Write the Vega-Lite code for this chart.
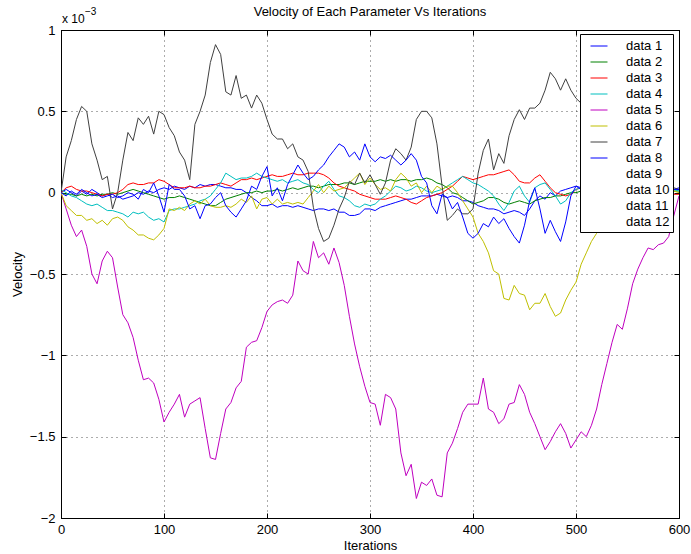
{
"$schema": "https://vega.github.io/schema/vega-lite/v6.json",
"width": 618, "height": 488,
"autosize": {"type": "none"},
"padding": {"left": 61, "top": 30, "right": 12, "bottom": 36},
"background": "white",
"config": {
  "font": "Liberation Sans",
  "view": {"stroke": "black", "strokeWidth": 1},
  "axis": {"labelFont": "Liberation Sans", "titleFont": "Liberation Sans", "labelFontSize": 13, "titleFontSize": 13, "labelColor": "black", "titleColor": "black", "titleFontWeight": "normal", "domainColor": "black", "tickColor": "black", "gridColor": "#000000", "gridOpacity": 0.65, "gridDash": [1, 4]}
},
"title": {"text": "Velocity of Each Parameter Vs Iterations", "font": "Liberation Sans", "fontSize": 13, "fontWeight": "normal", "color": "black", "anchor": "middle", "offset": -12},
"data": {"values": [
{"s":"data 1","x":0,"y":0},{"s":"data 1","x":5,"y":0.02},{"s":"data 1","x":10,"y":0},{"s":"data 1","x":15,"y":-0.02},{"s":"data 1","x":20,"y":0.01},{"s":"data 1","x":25,"y":-0.01},{"s":"data 1","x":30,"y":0.02},{"s":"data 1","x":35,"y":0},{"s":"data 1","x":40,"y":-0.02},{"s":"data 1","x":45,"y":-0.01},{"s":"data 1","x":50,"y":-0.03},{"s":"data 1","x":55,"y":-0.02},{"s":"data 1","x":60,"y":-0.04},{"s":"data 1","x":65,"y":-0.03},{"s":"data 1","x":70,"y":-0.02},{"s":"data 1","x":75,"y":0},{"s":"data 1","x":80,"y":-0.01},{"s":"data 1","x":85,"y":0.01},{"s":"data 1","x":90,"y":0},{"s":"data 1","x":95,"y":0.02},{"s":"data 1","x":100,"y":0.03},{"s":"data 1","x":105,"y":0.02},{"s":"data 1","x":110,"y":0.04},{"s":"data 1","x":115,"y":0.03},{"s":"data 1","x":120,"y":0.02},{"s":"data 1","x":125,"y":0.04},{"s":"data 1","x":130,"y":0.03},{"s":"data 1","x":135,"y":0.05},{"s":"data 1","x":140,"y":0.04},{"s":"data 1","x":145,"y":0.05},{"s":"data 1","x":150,"y":0.05},{"s":"data 1","x":155,"y":0.04},{"s":"data 1","x":160,"y":0.03},{"s":"data 1","x":165,"y":0.03},{"s":"data 1","x":170,"y":0.02},{"s":"data 1","x":175,"y":0.02},{"s":"data 1","x":180,"y":0},{"s":"data 1","x":185,"y":-0.03},{"s":"data 1","x":190,"y":-0.05},{"s":"data 1","x":195,"y":-0.08},{"s":"data 1","x":200,"y":-0.08},{"s":"data 1","x":205,"y":-0.07},{"s":"data 1","x":210,"y":-0.09},{"s":"data 1","x":215,"y":-0.08},{"s":"data 1","x":220,"y":-0.08},{"s":"data 1","x":225,"y":-0.09},{"s":"data 1","x":230,"y":-0.08},{"s":"data 1","x":235,"y":-0.09},{"s":"data 1","x":240,"y":-0.1},{"s":"data 1","x":245,"y":-0.11},{"s":"data 1","x":250,"y":-0.1},{"s":"data 1","x":255,"y":-0.1},{"s":"data 1","x":260,"y":-0.11},{"s":"data 1","x":265,"y":-0.1},{"s":"data 1","x":270,"y":-0.12},{"s":"data 1","x":275,"y":-0.12},{"s":"data 1","x":280,"y":-0.14},{"s":"data 1","x":285,"y":-0.14},{"s":"data 1","x":290,"y":-0.13},{"s":"data 1","x":295,"y":-0.1},{"s":"data 1","x":300,"y":-0.1},{"s":"data 1","x":305,"y":-0.11},{"s":"data 1","x":310,"y":-0.09},{"s":"data 1","x":315,"y":-0.08},{"s":"data 1","x":320,"y":-0.07},{"s":"data 1","x":325,"y":-0.06},{"s":"data 1","x":330,"y":-0.05},{"s":"data 1","x":335,"y":-0.04},{"s":"data 1","x":340,"y":-0.04},{"s":"data 1","x":345,"y":-0.03},{"s":"data 1","x":350,"y":-0.02},{"s":"data 1","x":355,"y":-0.02},{"s":"data 1","x":360,"y":-0.02},{"s":"data 1","x":365,"y":-0.01},{"s":"data 1","x":370,"y":-0.02},{"s":"data 1","x":375,"y":-0.03},{"s":"data 1","x":380,"y":-0.02},{"s":"data 1","x":385,"y":-0.03},{"s":"data 1","x":390,"y":-0.05},{"s":"data 1","x":395,"y":-0.05},{"s":"data 1","x":400,"y":-0.06},{"s":"data 1","x":405,"y":-0.08},{"s":"data 1","x":410,"y":-0.09},{"s":"data 1","x":415,"y":-0.1},{"s":"data 1","x":420,"y":-0.1},{"s":"data 1","x":425,"y":-0.11},{"s":"data 1","x":430,"y":-0.13},{"s":"data 1","x":435,"y":-0.12},{"s":"data 1","x":440,"y":-0.11},{"s":"data 1","x":445,"y":-0.12},{"s":"data 1","x":450,"y":-0.14},{"s":"data 1","x":455,"y":-0.1},{"s":"data 1","x":460,"y":-0.05},{"s":"data 1","x":465,"y":-0.02},{"s":"data 1","x":470,"y":-0.04},{"s":"data 1","x":475,"y":0},{"s":"data 1","x":480,"y":-0.02},{"s":"data 1","x":485,"y":0.01},{"s":"data 1","x":490,"y":0.02},{"s":"data 1","x":495,"y":0.03},{"s":"data 1","x":500,"y":0.04},{"s":"data 1","x":505,"y":0.03},{"s":"data 1","x":510,"y":0.02},{"s":"data 1","x":515,"y":0.03},{"s":"data 1","x":520,"y":0.01},{"s":"data 1","x":525,"y":0.02},{"s":"data 1","x":530,"y":0},{"s":"data 1","x":535,"y":0.01},{"s":"data 1","x":540,"y":0.02},{"s":"data 1","x":545,"y":0.01},{"s":"data 1","x":550,"y":0.03},{"s":"data 1","x":555,"y":0.02},{"s":"data 1","x":560,"y":0.01},{"s":"data 1","x":565,"y":0.02},{"s":"data 1","x":570,"y":0.03},{"s":"data 1","x":575,"y":0.01},{"s":"data 1","x":580,"y":0.02},{"s":"data 1","x":585,"y":0.03},{"s":"data 1","x":590,"y":0.01},{"s":"data 1","x":595,"y":0.02},{"s":"data 1","x":600,"y":0.03},
{"s":"data 2","x":0,"y":0},{"s":"data 2","x":5,"y":-0.01},{"s":"data 2","x":10,"y":-0.01},{"s":"data 2","x":15,"y":-0.02},{"s":"data 2","x":20,"y":-0.01},{"s":"data 2","x":25,"y":-0.02},{"s":"data 2","x":30,"y":-0.01},{"s":"data 2","x":35,"y":-0.02},{"s":"data 2","x":40,"y":-0.01},{"s":"data 2","x":45,"y":-0.01},{"s":"data 2","x":50,"y":0},{"s":"data 2","x":55,"y":-0.01},{"s":"data 2","x":60,"y":0},{"s":"data 2","x":65,"y":0.01},{"s":"data 2","x":70,"y":0.02},{"s":"data 2","x":75,"y":0.01},{"s":"data 2","x":80,"y":0},{"s":"data 2","x":85,"y":-0.01},{"s":"data 2","x":90,"y":-0.02},{"s":"data 2","x":95,"y":-0.03},{"s":"data 2","x":100,"y":-0.04},{"s":"data 2","x":105,"y":-0.03},{"s":"data 2","x":110,"y":-0.03},{"s":"data 2","x":115,"y":-0.02},{"s":"data 2","x":120,"y":-0.03},{"s":"data 2","x":125,"y":-0.04},{"s":"data 2","x":130,"y":-0.05},{"s":"data 2","x":135,"y":-0.06},{"s":"data 2","x":140,"y":-0.07},{"s":"data 2","x":145,"y":-0.08},{"s":"data 2","x":150,"y":-0.08},{"s":"data 2","x":155,"y":-0.06},{"s":"data 2","x":160,"y":-0.04},{"s":"data 2","x":165,"y":-0.03},{"s":"data 2","x":170,"y":-0.02},{"s":"data 2","x":175,"y":-0.01},{"s":"data 2","x":180,"y":0},{"s":"data 2","x":185,"y":0},{"s":"data 2","x":190,"y":0.01},{"s":"data 2","x":195,"y":0},{"s":"data 2","x":200,"y":0.01},{"s":"data 2","x":205,"y":0.01},{"s":"data 2","x":210,"y":0.02},{"s":"data 2","x":215,"y":0.01},{"s":"data 2","x":220,"y":0.02},{"s":"data 2","x":225,"y":0.03},{"s":"data 2","x":230,"y":0.02},{"s":"data 2","x":235,"y":0.03},{"s":"data 2","x":240,"y":0.04},{"s":"data 2","x":245,"y":0.04},{"s":"data 2","x":250,"y":0.03},{"s":"data 2","x":255,"y":0.04},{"s":"data 2","x":260,"y":0.05},{"s":"data 2","x":265,"y":0.05},{"s":"data 2","x":270,"y":0.05},{"s":"data 2","x":275,"y":0.06},{"s":"data 2","x":280,"y":0.06},{"s":"data 2","x":285,"y":0.05},{"s":"data 2","x":290,"y":0.06},{"s":"data 2","x":295,"y":0.07},{"s":"data 2","x":300,"y":0.07},{"s":"data 2","x":305,"y":0.07},{"s":"data 2","x":310,"y":0.08},{"s":"data 2","x":315,"y":0.07},{"s":"data 2","x":320,"y":0.08},{"s":"data 2","x":325,"y":0.07},{"s":"data 2","x":330,"y":0.08},{"s":"data 2","x":335,"y":0.08},{"s":"data 2","x":340,"y":0.07},{"s":"data 2","x":345,"y":0.08},{"s":"data 2","x":350,"y":0.08},{"s":"data 2","x":355,"y":0.09},{"s":"data 2","x":360,"y":0.08},{"s":"data 2","x":365,"y":0.06},{"s":"data 2","x":370,"y":0.05},{"s":"data 2","x":375,"y":0.03},{"s":"data 2","x":380,"y":0},{"s":"data 2","x":385,"y":-0.01},{"s":"data 2","x":390,"y":-0.03},{"s":"data 2","x":395,"y":-0.05},{"s":"data 2","x":400,"y":-0.07},{"s":"data 2","x":405,"y":-0.06},{"s":"data 2","x":410,"y":-0.05},{"s":"data 2","x":415,"y":-0.03},{"s":"data 2","x":420,"y":-0.03},{"s":"data 2","x":425,"y":-0.04},{"s":"data 2","x":430,"y":-0.06},{"s":"data 2","x":435,"y":-0.07},{"s":"data 2","x":440,"y":-0.06},{"s":"data 2","x":445,"y":-0.05},{"s":"data 2","x":450,"y":-0.06},{"s":"data 2","x":455,"y":-0.07},{"s":"data 2","x":460,"y":-0.05},{"s":"data 2","x":465,"y":-0.04},{"s":"data 2","x":470,"y":-0.03},{"s":"data 2","x":475,"y":-0.03},{"s":"data 2","x":480,"y":-0.02},{"s":"data 2","x":485,"y":-0.02},{"s":"data 2","x":490,"y":-0.01},{"s":"data 2","x":495,"y":0},{"s":"data 2","x":500,"y":0},{"s":"data 2","x":505,"y":0.01},{"s":"data 2","x":510,"y":0},{"s":"data 2","x":515,"y":0.01},{"s":"data 2","x":520,"y":0.02},{"s":"data 2","x":525,"y":0.01},{"s":"data 2","x":530,"y":0.01},{"s":"data 2","x":535,"y":0.02},{"s":"data 2","x":540,"y":0.01},{"s":"data 2","x":545,"y":0},{"s":"data 2","x":550,"y":0.01},{"s":"data 2","x":555,"y":0.02},{"s":"data 2","x":560,"y":0.01},{"s":"data 2","x":565,"y":0.01},{"s":"data 2","x":570,"y":0.02},{"s":"data 2","x":575,"y":0.01},{"s":"data 2","x":580,"y":0.02},{"s":"data 2","x":585,"y":0.01},{"s":"data 2","x":590,"y":0.02},{"s":"data 2","x":595,"y":0.01},{"s":"data 2","x":600,"y":0.01},
{"s":"data 3","x":0,"y":0},{"s":"data 3","x":5,"y":0.03},{"s":"data 3","x":10,"y":0.04},{"s":"data 3","x":15,"y":0.02},{"s":"data 3","x":20,"y":0.01},{"s":"data 3","x":25,"y":0.01},{"s":"data 3","x":30,"y":0},{"s":"data 3","x":35,"y":-0.01},{"s":"data 3","x":40,"y":-0.02},{"s":"data 3","x":45,"y":-0.01},{"s":"data 3","x":50,"y":-0.01},{"s":"data 3","x":55,"y":0},{"s":"data 3","x":60,"y":0.02},{"s":"data 3","x":65,"y":0.05},{"s":"data 3","x":70,"y":0.06},{"s":"data 3","x":75,"y":0.05},{"s":"data 3","x":80,"y":0.05},{"s":"data 3","x":85,"y":0.06},{"s":"data 3","x":90,"y":0.06},{"s":"data 3","x":95,"y":0.08},{"s":"data 3","x":100,"y":0.07},{"s":"data 3","x":105,"y":0.05},{"s":"data 3","x":110,"y":0.03},{"s":"data 3","x":115,"y":0.03},{"s":"data 3","x":120,"y":0.03},{"s":"data 3","x":125,"y":0.04},{"s":"data 3","x":130,"y":0.03},{"s":"data 3","x":135,"y":0.03},{"s":"data 3","x":140,"y":0.04},{"s":"data 3","x":145,"y":0.04},{"s":"data 3","x":150,"y":0.05},{"s":"data 3","x":155,"y":0.06},{"s":"data 3","x":160,"y":0.05},{"s":"data 3","x":165,"y":0.04},{"s":"data 3","x":170,"y":0.06},{"s":"data 3","x":175,"y":0.08},{"s":"data 3","x":180,"y":0.08},{"s":"data 3","x":185,"y":0.09},{"s":"data 3","x":190,"y":0.08},{"s":"data 3","x":195,"y":0.09},{"s":"data 3","x":200,"y":0.1},{"s":"data 3","x":205,"y":0.11},{"s":"data 3","x":210,"y":0.1},{"s":"data 3","x":215,"y":0.1},{"s":"data 3","x":220,"y":0.11},{"s":"data 3","x":225,"y":0.12},{"s":"data 3","x":230,"y":0.11},{"s":"data 3","x":235,"y":0.11},{"s":"data 3","x":240,"y":0.12},{"s":"data 3","x":245,"y":0.12},{"s":"data 3","x":250,"y":0.12},{"s":"data 3","x":255,"y":0.11},{"s":"data 3","x":260,"y":0.09},{"s":"data 3","x":265,"y":0.06},{"s":"data 3","x":270,"y":0.04},{"s":"data 3","x":275,"y":0.03},{"s":"data 3","x":280,"y":0.02},{"s":"data 3","x":285,"y":0.01},{"s":"data 3","x":290,"y":-0.01},{"s":"data 3","x":295,"y":-0.02},{"s":"data 3","x":300,"y":-0.03},{"s":"data 3","x":305,"y":-0.04},{"s":"data 3","x":310,"y":-0.04},{"s":"data 3","x":315,"y":-0.04},{"s":"data 3","x":320,"y":-0.03},{"s":"data 3","x":325,"y":-0.02},{"s":"data 3","x":330,"y":-0.03},{"s":"data 3","x":335,"y":-0.04},{"s":"data 3","x":340,"y":-0.06},{"s":"data 3","x":345,"y":-0.07},{"s":"data 3","x":350,"y":-0.05},{"s":"data 3","x":355,"y":-0.03},{"s":"data 3","x":360,"y":-0.02},{"s":"data 3","x":365,"y":-0.01},{"s":"data 3","x":370,"y":0},{"s":"data 3","x":375,"y":0.02},{"s":"data 3","x":380,"y":0.04},{"s":"data 3","x":385,"y":0.07},{"s":"data 3","x":390,"y":0.1},{"s":"data 3","x":395,"y":0.09},{"s":"data 3","x":400,"y":0.08},{"s":"data 3","x":405,"y":0.09},{"s":"data 3","x":410,"y":0.1},{"s":"data 3","x":415,"y":0.11},{"s":"data 3","x":420,"y":0.11},{"s":"data 3","x":425,"y":0.12},{"s":"data 3","x":430,"y":0.13},{"s":"data 3","x":435,"y":0.14},{"s":"data 3","x":440,"y":0.11},{"s":"data 3","x":445,"y":0.07},{"s":"data 3","x":450,"y":0.06},{"s":"data 3","x":455,"y":0.06},{"s":"data 3","x":460,"y":0.09},{"s":"data 3","x":465,"y":0.11},{"s":"data 3","x":470,"y":0.07},{"s":"data 3","x":475,"y":0.03},{"s":"data 3","x":480,"y":0},{"s":"data 3","x":485,"y":-0.01},{"s":"data 3","x":490,"y":-0.02},{"s":"data 3","x":495,"y":-0.01},{"s":"data 3","x":500,"y":0.02},{"s":"data 3","x":505,"y":0.03},{"s":"data 3","x":510,"y":0.02},{"s":"data 3","x":515,"y":0.03},{"s":"data 3","x":520,"y":0.02},{"s":"data 3","x":525,"y":0.01},{"s":"data 3","x":530,"y":0.02},{"s":"data 3","x":535,"y":0.01},{"s":"data 3","x":540,"y":0},{"s":"data 3","x":545,"y":0.01},{"s":"data 3","x":550,"y":0},{"s":"data 3","x":555,"y":-0.01},{"s":"data 3","x":560,"y":0},{"s":"data 3","x":565,"y":0.01},{"s":"data 3","x":570,"y":0},{"s":"data 3","x":575,"y":-0.01},{"s":"data 3","x":580,"y":0},{"s":"data 3","x":585,"y":0.01},{"s":"data 3","x":590,"y":0},{"s":"data 3","x":595,"y":-0.01},{"s":"data 3","x":600,"y":-0.01},
{"s":"data 4","x":0,"y":0.02},{"s":"data 4","x":5,"y":0},{"s":"data 4","x":10,"y":-0.02},{"s":"data 4","x":15,"y":-0.03},{"s":"data 4","x":20,"y":-0.05},{"s":"data 4","x":25,"y":-0.07},{"s":"data 4","x":30,"y":-0.08},{"s":"data 4","x":35,"y":-0.07},{"s":"data 4","x":40,"y":-0.09},{"s":"data 4","x":45,"y":-0.11},{"s":"data 4","x":50,"y":-0.11},{"s":"data 4","x":55,"y":-0.12},{"s":"data 4","x":60,"y":-0.13},{"s":"data 4","x":65,"y":-0.15},{"s":"data 4","x":70,"y":-0.12},{"s":"data 4","x":75,"y":-0.13},{"s":"data 4","x":80,"y":-0.12},{"s":"data 4","x":85,"y":-0.15},{"s":"data 4","x":90,"y":-0.17},{"s":"data 4","x":95,"y":-0.16},{"s":"data 4","x":100,"y":-0.18},{"s":"data 4","x":105,"y":-0.11},{"s":"data 4","x":110,"y":-0.1},{"s":"data 4","x":115,"y":-0.1},{"s":"data 4","x":120,"y":-0.09},{"s":"data 4","x":125,"y":-0.08},{"s":"data 4","x":130,"y":-0.07},{"s":"data 4","x":135,"y":-0.05},{"s":"data 4","x":140,"y":-0.04},{"s":"data 4","x":145,"y":-0.02},{"s":"data 4","x":150,"y":0.02},{"s":"data 4","x":155,"y":0.06},{"s":"data 4","x":160,"y":0.12},{"s":"data 4","x":165,"y":0.1},{"s":"data 4","x":170,"y":0.08},{"s":"data 4","x":175,"y":0.09},{"s":"data 4","x":180,"y":0.09},{"s":"data 4","x":185,"y":0.1},{"s":"data 4","x":190,"y":0.12},{"s":"data 4","x":195,"y":0.1},{"s":"data 4","x":200,"y":0.09},{"s":"data 4","x":205,"y":0.08},{"s":"data 4","x":210,"y":0.07},{"s":"data 4","x":215,"y":0.08},{"s":"data 4","x":220,"y":0.06},{"s":"data 4","x":225,"y":0.07},{"s":"data 4","x":230,"y":0.08},{"s":"data 4","x":235,"y":0.06},{"s":"data 4","x":240,"y":0.05},{"s":"data 4","x":245,"y":0.02},{"s":"data 4","x":250,"y":0},{"s":"data 4","x":255,"y":0.04},{"s":"data 4","x":260,"y":0.07},{"s":"data 4","x":265,"y":0.02},{"s":"data 4","x":270,"y":-0.02},{"s":"data 4","x":275,"y":-0.03},{"s":"data 4","x":280,"y":-0.05},{"s":"data 4","x":285,"y":-0.08},{"s":"data 4","x":290,"y":-0.09},{"s":"data 4","x":295,"y":-0.07},{"s":"data 4","x":300,"y":-0.08},{"s":"data 4","x":305,"y":-0.07},{"s":"data 4","x":310,"y":-0.04},{"s":"data 4","x":315,"y":-0.02},{"s":"data 4","x":320,"y":0.01},{"s":"data 4","x":325,"y":0.04},{"s":"data 4","x":330,"y":0.03},{"s":"data 4","x":335,"y":0.01},{"s":"data 4","x":340,"y":0.02},{"s":"data 4","x":345,"y":0.04},{"s":"data 4","x":350,"y":0.03},{"s":"data 4","x":355,"y":0.01},{"s":"data 4","x":360,"y":0},{"s":"data 4","x":365,"y":0.01},{"s":"data 4","x":370,"y":0.02},{"s":"data 4","x":375,"y":0.04},{"s":"data 4","x":380,"y":0.06},{"s":"data 4","x":385,"y":0.08},{"s":"data 4","x":390,"y":0.1},{"s":"data 4","x":395,"y":0.08},{"s":"data 4","x":400,"y":0.06},{"s":"data 4","x":405,"y":0.05},{"s":"data 4","x":410,"y":0.03},{"s":"data 4","x":415,"y":0.01},{"s":"data 4","x":420,"y":-0.02},{"s":"data 4","x":425,"y":-0.07},{"s":"data 4","x":430,"y":-0.11},{"s":"data 4","x":435,"y":-0.06},{"s":"data 4","x":440,"y":0.01},{"s":"data 4","x":445,"y":0.04},{"s":"data 4","x":450,"y":-0.02},{"s":"data 4","x":455,"y":-0.06},{"s":"data 4","x":460,"y":0.03},{"s":"data 4","x":465,"y":0.05},{"s":"data 4","x":470,"y":0.06},{"s":"data 4","x":475,"y":0.02},{"s":"data 4","x":480,"y":-0.02},{"s":"data 4","x":485,"y":-0.07},{"s":"data 4","x":490,"y":-0.05},{"s":"data 4","x":495,"y":0},{"s":"data 4","x":500,"y":0.02},{"s":"data 4","x":505,"y":0.03},{"s":"data 4","x":510,"y":0.04},{"s":"data 4","x":515,"y":0.02},{"s":"data 4","x":520,"y":0.03},{"s":"data 4","x":525,"y":0.05},{"s":"data 4","x":530,"y":0.04},{"s":"data 4","x":535,"y":0.02},{"s":"data 4","x":540,"y":0.03},{"s":"data 4","x":545,"y":0.01},{"s":"data 4","x":550,"y":0.02},{"s":"data 4","x":555,"y":0.03},{"s":"data 4","x":560,"y":0.01},{"s":"data 4","x":565,"y":0.02},{"s":"data 4","x":570,"y":0},{"s":"data 4","x":575,"y":0.01},{"s":"data 4","x":580,"y":0.02},{"s":"data 4","x":585,"y":0},{"s":"data 4","x":590,"y":0.01},{"s":"data 4","x":595,"y":0.02},{"s":"data 4","x":600,"y":0.01},
{"s":"data 5","x":0,"y":0},{"s":"data 5","x":5,"y":-0.1},{"s":"data 5","x":10,"y":-0.2},{"s":"data 5","x":15,"y":-0.27},{"s":"data 5","x":20,"y":-0.23},{"s":"data 5","x":25,"y":-0.33},{"s":"data 5","x":30,"y":-0.5},{"s":"data 5","x":35,"y":-0.56},{"s":"data 5","x":40,"y":-0.42},{"s":"data 5","x":45,"y":-0.36},{"s":"data 5","x":50,"y":-0.4},{"s":"data 5","x":55,"y":-0.58},{"s":"data 5","x":60,"y":-0.75},{"s":"data 5","x":65,"y":-0.8},{"s":"data 5","x":70,"y":-0.89},{"s":"data 5","x":75,"y":-1.03},{"s":"data 5","x":80,"y":-1.15},{"s":"data 5","x":85,"y":-1.14},{"s":"data 5","x":90,"y":-1.17},{"s":"data 5","x":95,"y":-1.27},{"s":"data 5","x":100,"y":-1.41},{"s":"data 5","x":105,"y":-1.35},{"s":"data 5","x":110,"y":-1.3},{"s":"data 5","x":115,"y":-1.24},{"s":"data 5","x":120,"y":-1.38},{"s":"data 5","x":125,"y":-1.3},{"s":"data 5","x":130,"y":-1.28},{"s":"data 5","x":135,"y":-1.26},{"s":"data 5","x":140,"y":-1.45},{"s":"data 5","x":145,"y":-1.63},{"s":"data 5","x":150,"y":-1.64},{"s":"data 5","x":155,"y":-1.48},{"s":"data 5","x":160,"y":-1.33},{"s":"data 5","x":165,"y":-1.29},{"s":"data 5","x":170,"y":-1.2},{"s":"data 5","x":175,"y":-1.16},{"s":"data 5","x":180,"y":-0.95},{"s":"data 5","x":185,"y":-0.92},{"s":"data 5","x":190,"y":-0.91},{"s":"data 5","x":195,"y":-0.83},{"s":"data 5","x":200,"y":-0.73},{"s":"data 5","x":205,"y":-0.69},{"s":"data 5","x":210,"y":-0.67},{"s":"data 5","x":215,"y":-0.66},{"s":"data 5","x":220,"y":-0.68},{"s":"data 5","x":225,"y":-0.63},{"s":"data 5","x":230,"y":-0.42},{"s":"data 5","x":235,"y":-0.48},{"s":"data 5","x":240,"y":-0.5},{"s":"data 5","x":245,"y":-0.3},{"s":"data 5","x":250,"y":-0.4},{"s":"data 5","x":255,"y":-0.37},{"s":"data 5","x":260,"y":-0.44},{"s":"data 5","x":265,"y":-0.34},{"s":"data 5","x":270,"y":-0.43},{"s":"data 5","x":275,"y":-0.57},{"s":"data 5","x":280,"y":-0.76},{"s":"data 5","x":285,"y":-0.93},{"s":"data 5","x":290,"y":-1.07},{"s":"data 5","x":295,"y":-1.19},{"s":"data 5","x":300,"y":-1.29},{"s":"data 5","x":305,"y":-1.3},{"s":"data 5","x":310,"y":-1.43},{"s":"data 5","x":315,"y":-1.24},{"s":"data 5","x":320,"y":-1.26},{"s":"data 5","x":325,"y":-1.33},{"s":"data 5","x":330,"y":-1.6},{"s":"data 5","x":335,"y":-1.74},{"s":"data 5","x":340,"y":-1.67},{"s":"data 5","x":345,"y":-1.88},{"s":"data 5","x":350,"y":-1.78},{"s":"data 5","x":355,"y":-1.8},{"s":"data 5","x":360,"y":-1.76},{"s":"data 5","x":365,"y":-1.86},{"s":"data 5","x":370,"y":-1.87},{"s":"data 5","x":375,"y":-1.6},{"s":"data 5","x":380,"y":-1.54},{"s":"data 5","x":385,"y":-1.45},{"s":"data 5","x":390,"y":-1.35},{"s":"data 5","x":395,"y":-1.3},{"s":"data 5","x":400,"y":-1.3},{"s":"data 5","x":405,"y":-1.3},{"s":"data 5","x":410,"y":-1.14},{"s":"data 5","x":415,"y":-1.33},{"s":"data 5","x":420,"y":-1.35},{"s":"data 5","x":425,"y":-1.42},{"s":"data 5","x":430,"y":-1.39},{"s":"data 5","x":435,"y":-1.3},{"s":"data 5","x":440,"y":-1.29},{"s":"data 5","x":445,"y":-1.18},{"s":"data 5","x":450,"y":-1.24},{"s":"data 5","x":455,"y":-1.35},{"s":"data 5","x":460,"y":-1.42},{"s":"data 5","x":465,"y":-1.5},{"s":"data 5","x":470,"y":-1.58},{"s":"data 5","x":475,"y":-1.53},{"s":"data 5","x":480,"y":-1.47},{"s":"data 5","x":485,"y":-1.42},{"s":"data 5","x":490,"y":-1.48},{"s":"data 5","x":495,"y":-1.57},{"s":"data 5","x":500,"y":-1.52},{"s":"data 5","x":505,"y":-1.47},{"s":"data 5","x":510,"y":-1.5},{"s":"data 5","x":515,"y":-1.43},{"s":"data 5","x":520,"y":-1.33},{"s":"data 5","x":525,"y":-1.18},{"s":"data 5","x":530,"y":-1.05},{"s":"data 5","x":535,"y":-0.92},{"s":"data 5","x":540,"y":-0.81},{"s":"data 5","x":545,"y":-0.84},{"s":"data 5","x":550,"y":-0.71},{"s":"data 5","x":555,"y":-0.56},{"s":"data 5","x":560,"y":-0.47},{"s":"data 5","x":565,"y":-0.4},{"s":"data 5","x":570,"y":-0.34},{"s":"data 5","x":575,"y":-0.35},{"s":"data 5","x":580,"y":-0.32},{"s":"data 5","x":585,"y":-0.31},{"s":"data 5","x":590,"y":-0.27},{"s":"data 5","x":595,"y":-0.14},{"s":"data 5","x":600,"y":-0.02},
{"s":"data 6","x":0,"y":0},{"s":"data 6","x":5,"y":-0.08},{"s":"data 6","x":10,"y":-0.11},{"s":"data 6","x":15,"y":-0.14},{"s":"data 6","x":20,"y":-0.14},{"s":"data 6","x":25,"y":-0.17},{"s":"data 6","x":30,"y":-0.16},{"s":"data 6","x":35,"y":-0.19},{"s":"data 6","x":40,"y":-0.17},{"s":"data 6","x":45,"y":-0.2},{"s":"data 6","x":50,"y":-0.16},{"s":"data 6","x":55,"y":-0.15},{"s":"data 6","x":60,"y":-0.17},{"s":"data 6","x":65,"y":-0.21},{"s":"data 6","x":70,"y":-0.23},{"s":"data 6","x":75,"y":-0.26},{"s":"data 6","x":80,"y":-0.26},{"s":"data 6","x":85,"y":-0.28},{"s":"data 6","x":90,"y":-0.29},{"s":"data 6","x":95,"y":-0.26},{"s":"data 6","x":100,"y":-0.22},{"s":"data 6","x":105,"y":-0.1},{"s":"data 6","x":110,"y":-0.11},{"s":"data 6","x":115,"y":-0.09},{"s":"data 6","x":120,"y":-0.11},{"s":"data 6","x":125,"y":-0.07},{"s":"data 6","x":130,"y":-0.05},{"s":"data 6","x":135,"y":-0.07},{"s":"data 6","x":140,"y":-0.04},{"s":"data 6","x":145,"y":-0.08},{"s":"data 6","x":150,"y":-0.09},{"s":"data 6","x":155,"y":-0.09},{"s":"data 6","x":160,"y":-0.08},{"s":"data 6","x":165,"y":-0.09},{"s":"data 6","x":170,"y":-0.07},{"s":"data 6","x":175,"y":-0.04},{"s":"data 6","x":180,"y":-0.06},{"s":"data 6","x":185,"y":-0.02},{"s":"data 6","x":190,"y":-0.1},{"s":"data 6","x":195,"y":-0.04},{"s":"data 6","x":200,"y":-0.03},{"s":"data 6","x":205,"y":-0.07},{"s":"data 6","x":210,"y":-0.04},{"s":"data 6","x":215,"y":-0.07},{"s":"data 6","x":220,"y":-0.06},{"s":"data 6","x":225,"y":-0.07},{"s":"data 6","x":230,"y":-0.06},{"s":"data 6","x":235,"y":-0.07},{"s":"data 6","x":240,"y":-0.03},{"s":"data 6","x":245,"y":0.01},{"s":"data 6","x":250,"y":0.05},{"s":"data 6","x":255,"y":0},{"s":"data 6","x":260,"y":0.04},{"s":"data 6","x":265,"y":0.01},{"s":"data 6","x":270,"y":0.02},{"s":"data 6","x":275,"y":0.03},{"s":"data 6","x":280,"y":0.06},{"s":"data 6","x":285,"y":0.09},{"s":"data 6","x":290,"y":0.12},{"s":"data 6","x":295,"y":0.05},{"s":"data 6","x":300,"y":0.09},{"s":"data 6","x":305,"y":0.05},{"s":"data 6","x":310,"y":0.02},{"s":"data 6","x":315,"y":0.03},{"s":"data 6","x":320,"y":0.01},{"s":"data 6","x":325,"y":0.08},{"s":"data 6","x":330,"y":0.12},{"s":"data 6","x":335,"y":0.09},{"s":"data 6","x":340,"y":0.04},{"s":"data 6","x":345,"y":0.06},{"s":"data 6","x":350,"y":0},{"s":"data 6","x":355,"y":0.04},{"s":"data 6","x":360,"y":0},{"s":"data 6","x":365,"y":0.04},{"s":"data 6","x":370,"y":0.02},{"s":"data 6","x":375,"y":0.04},{"s":"data 6","x":380,"y":0.04},{"s":"data 6","x":385,"y":0},{"s":"data 6","x":390,"y":-0.05},{"s":"data 6","x":395,"y":-0.1},{"s":"data 6","x":400,"y":-0.15},{"s":"data 6","x":405,"y":-0.25},{"s":"data 6","x":410,"y":-0.3},{"s":"data 6","x":415,"y":-0.37},{"s":"data 6","x":420,"y":-0.48},{"s":"data 6","x":425,"y":-0.5},{"s":"data 6","x":430,"y":-0.65},{"s":"data 6","x":435,"y":-0.66},{"s":"data 6","x":440,"y":-0.57},{"s":"data 6","x":445,"y":-0.62},{"s":"data 6","x":450,"y":-0.63},{"s":"data 6","x":455,"y":-0.72},{"s":"data 6","x":460,"y":-0.68},{"s":"data 6","x":465,"y":-0.68},{"s":"data 6","x":470,"y":-0.62},{"s":"data 6","x":475,"y":-0.7},{"s":"data 6","x":480,"y":-0.76},{"s":"data 6","x":485,"y":-0.74},{"s":"data 6","x":490,"y":-0.66},{"s":"data 6","x":495,"y":-0.6},{"s":"data 6","x":500,"y":-0.55},{"s":"data 6","x":505,"y":-0.44},{"s":"data 6","x":510,"y":-0.37},{"s":"data 6","x":515,"y":-0.3},{"s":"data 6","x":520,"y":-0.25},{"s":"data 6","x":525,"y":-0.2},{"s":"data 6","x":530,"y":-0.17},{"s":"data 6","x":535,"y":-0.14},{"s":"data 6","x":540,"y":-0.12},{"s":"data 6","x":545,"y":-0.1},{"s":"data 6","x":550,"y":-0.08},{"s":"data 6","x":555,"y":-0.06},{"s":"data 6","x":560,"y":-0.05},{"s":"data 6","x":565,"y":-0.04},{"s":"data 6","x":570,"y":-0.03},{"s":"data 6","x":575,"y":-0.02},{"s":"data 6","x":580,"y":-0.02},{"s":"data 6","x":585,"y":-0.01},{"s":"data 6","x":590,"y":0},{"s":"data 6","x":595,"y":0.01},{"s":"data 6","x":600,"y":0},
{"s":"data 7","x":0,"y":0},{"s":"data 7","x":5,"y":0.22},{"s":"data 7","x":10,"y":0.32},{"s":"data 7","x":15,"y":0.45},{"s":"data 7","x":20,"y":0.53},{"s":"data 7","x":25,"y":0.5},{"s":"data 7","x":30,"y":0.3},{"s":"data 7","x":35,"y":0.2},{"s":"data 7","x":40,"y":0.08},{"s":"data 7","x":45,"y":0.1},{"s":"data 7","x":50,"y":-0.1},{"s":"data 7","x":55,"y":0},{"s":"data 7","x":60,"y":0.2},{"s":"data 7","x":65,"y":0.37},{"s":"data 7","x":70,"y":0.32},{"s":"data 7","x":75,"y":0.46},{"s":"data 7","x":80,"y":0.42},{"s":"data 7","x":85,"y":0.47},{"s":"data 7","x":90,"y":0.36},{"s":"data 7","x":95,"y":0.5},{"s":"data 7","x":100,"y":0.48},{"s":"data 7","x":105,"y":0.4},{"s":"data 7","x":110,"y":0.35},{"s":"data 7","x":115,"y":0.25},{"s":"data 7","x":120,"y":0.2},{"s":"data 7","x":125,"y":0.08},{"s":"data 7","x":130,"y":0.42},{"s":"data 7","x":135,"y":0.5},{"s":"data 7","x":140,"y":0.6},{"s":"data 7","x":145,"y":0.8},{"s":"data 7","x":150,"y":0.91},{"s":"data 7","x":155,"y":0.85},{"s":"data 7","x":160,"y":0.62},{"s":"data 7","x":165,"y":0.6},{"s":"data 7","x":170,"y":0.72},{"s":"data 7","x":175,"y":0.58},{"s":"data 7","x":180,"y":0.6},{"s":"data 7","x":185,"y":0.52},{"s":"data 7","x":190,"y":0.6},{"s":"data 7","x":195,"y":0.55},{"s":"data 7","x":200,"y":0.45},{"s":"data 7","x":205,"y":0.36},{"s":"data 7","x":210,"y":0.33},{"s":"data 7","x":215,"y":0.33},{"s":"data 7","x":220,"y":0.27},{"s":"data 7","x":225,"y":0.3},{"s":"data 7","x":230,"y":0.22},{"s":"data 7","x":235,"y":0.2},{"s":"data 7","x":240,"y":0.13},{"s":"data 7","x":245,"y":-0.09},{"s":"data 7","x":250,"y":-0.22},{"s":"data 7","x":255,"y":-0.3},{"s":"data 7","x":260,"y":-0.28},{"s":"data 7","x":265,"y":-0.2},{"s":"data 7","x":270,"y":-0.1},{"s":"data 7","x":275,"y":-0.03},{"s":"data 7","x":280,"y":0.07},{"s":"data 7","x":285,"y":0.05},{"s":"data 7","x":290,"y":0.12},{"s":"data 7","x":295,"y":0.06},{"s":"data 7","x":300,"y":0.11},{"s":"data 7","x":305,"y":0.05},{"s":"data 7","x":310,"y":-0.01},{"s":"data 7","x":315,"y":0.06},{"s":"data 7","x":320,"y":0.2},{"s":"data 7","x":325,"y":0.27},{"s":"data 7","x":330,"y":0.24},{"s":"data 7","x":335,"y":0.2},{"s":"data 7","x":340,"y":0.28},{"s":"data 7","x":345,"y":0.45},{"s":"data 7","x":350,"y":0.5},{"s":"data 7","x":355,"y":0.5},{"s":"data 7","x":360,"y":0.46},{"s":"data 7","x":365,"y":0.3},{"s":"data 7","x":370,"y":0.04},{"s":"data 7","x":375,"y":-0.17},{"s":"data 7","x":380,"y":-0.14},{"s":"data 7","x":385,"y":-0.1},{"s":"data 7","x":390,"y":-0.13},{"s":"data 7","x":395,"y":-0.13},{"s":"data 7","x":400,"y":-0.1},{"s":"data 7","x":405,"y":0.12},{"s":"data 7","x":410,"y":0.26},{"s":"data 7","x":415,"y":0.33},{"s":"data 7","x":420,"y":0.14},{"s":"data 7","x":425,"y":0.24},{"s":"data 7","x":430,"y":0.18},{"s":"data 7","x":435,"y":0.35},{"s":"data 7","x":440,"y":0.45},{"s":"data 7","x":445,"y":0.51},{"s":"data 7","x":450,"y":0.45},{"s":"data 7","x":455,"y":0.52},{"s":"data 7","x":460,"y":0.52},{"s":"data 7","x":465,"y":0.55},{"s":"data 7","x":470,"y":0.63},{"s":"data 7","x":475,"y":0.74},{"s":"data 7","x":480,"y":0.7},{"s":"data 7","x":485,"y":0.63},{"s":"data 7","x":490,"y":0.7},{"s":"data 7","x":495,"y":0.63},{"s":"data 7","x":500,"y":0.58},{"s":"data 7","x":505,"y":0.55},{"s":"data 7","x":510,"y":0.5},{"s":"data 7","x":515,"y":0.45},{"s":"data 7","x":520,"y":0.42},{"s":"data 7","x":525,"y":0.38},{"s":"data 7","x":530,"y":0.33},{"s":"data 7","x":535,"y":0.28},{"s":"data 7","x":540,"y":0.24},{"s":"data 7","x":545,"y":0.2},{"s":"data 7","x":550,"y":0.15},{"s":"data 7","x":555,"y":0.12},{"s":"data 7","x":560,"y":0.1},{"s":"data 7","x":565,"y":0.08},{"s":"data 7","x":570,"y":0.06},{"s":"data 7","x":575,"y":0.05},{"s":"data 7","x":580,"y":0.04},{"s":"data 7","x":585,"y":0.03},{"s":"data 7","x":590,"y":0.02},{"s":"data 7","x":595,"y":0.03},{"s":"data 7","x":600,"y":0.02},
{"s":"data 8","x":0,"y":0},{"s":"data 8","x":5,"y":-0.02},{"s":"data 8","x":10,"y":0.01},{"s":"data 8","x":15,"y":-0.01},{"s":"data 8","x":20,"y":0.02},{"s":"data 8","x":25,"y":0},{"s":"data 8","x":30,"y":-0.02},{"s":"data 8","x":35,"y":-0.01},{"s":"data 8","x":40,"y":-0.03},{"s":"data 8","x":45,"y":-0.02},{"s":"data 8","x":50,"y":-0.01},{"s":"data 8","x":55,"y":-0.03},{"s":"data 8","x":60,"y":-0.02},{"s":"data 8","x":65,"y":0},{"s":"data 8","x":70,"y":-0.01},{"s":"data 8","x":75,"y":-0.04},{"s":"data 8","x":80,"y":0.02},{"s":"data 8","x":85,"y":0},{"s":"data 8","x":90,"y":0.06},{"s":"data 8","x":95,"y":-0.02},{"s":"data 8","x":100,"y":-0.12},{"s":"data 8","x":105,"y":0.05},{"s":"data 8","x":110,"y":0.02},{"s":"data 8","x":115,"y":0.02},{"s":"data 8","x":120,"y":-0.02},{"s":"data 8","x":125,"y":-0.1},{"s":"data 8","x":130,"y":-0.08},{"s":"data 8","x":135,"y":-0.16},{"s":"data 8","x":140,"y":-0.08},{"s":"data 8","x":145,"y":-0.07},{"s":"data 8","x":150,"y":-0.03},{"s":"data 8","x":155,"y":0},{"s":"data 8","x":160,"y":-0.08},{"s":"data 8","x":165,"y":-0.12},{"s":"data 8","x":170,"y":-0.15},{"s":"data 8","x":175,"y":-0.1},{"s":"data 8","x":180,"y":-0.05},{"s":"data 8","x":185,"y":0.04},{"s":"data 8","x":190,"y":0.02},{"s":"data 8","x":195,"y":0.1},{"s":"data 8","x":200,"y":0.16},{"s":"data 8","x":205,"y":-0.02},{"s":"data 8","x":210,"y":0.03},{"s":"data 8","x":215,"y":-0.05},{"s":"data 8","x":220,"y":0.05},{"s":"data 8","x":225,"y":0.11},{"s":"data 8","x":230,"y":0.17},{"s":"data 8","x":235,"y":0.12},{"s":"data 8","x":240,"y":0.08},{"s":"data 8","x":245,"y":0.1},{"s":"data 8","x":250,"y":0.14},{"s":"data 8","x":255,"y":0.17},{"s":"data 8","x":260,"y":0.22},{"s":"data 8","x":265,"y":0.26},{"s":"data 8","x":270,"y":0.3},{"s":"data 8","x":275,"y":0.28},{"s":"data 8","x":280,"y":0.22},{"s":"data 8","x":285,"y":0.25},{"s":"data 8","x":290,"y":0.2},{"s":"data 8","x":295,"y":0.3},{"s":"data 8","x":300,"y":0.22},{"s":"data 8","x":305,"y":0.19},{"s":"data 8","x":310,"y":0.22},{"s":"data 8","x":315,"y":0.21},{"s":"data 8","x":320,"y":0.23},{"s":"data 8","x":325,"y":0.2},{"s":"data 8","x":330,"y":0.17},{"s":"data 8","x":335,"y":0.2},{"s":"data 8","x":340,"y":0.24},{"s":"data 8","x":345,"y":0.2},{"s":"data 8","x":350,"y":0.1},{"s":"data 8","x":355,"y":0.06},{"s":"data 8","x":360,"y":-0.08},{"s":"data 8","x":365,"y":-0.13},{"s":"data 8","x":370,"y":-0.01},{"s":"data 8","x":375,"y":-0.03},{"s":"data 8","x":380,"y":-0.1},{"s":"data 8","x":385,"y":-0.06},{"s":"data 8","x":390,"y":-0.15},{"s":"data 8","x":395,"y":-0.25},{"s":"data 8","x":400,"y":-0.28},{"s":"data 8","x":405,"y":-0.25},{"s":"data 8","x":410,"y":-0.19},{"s":"data 8","x":415,"y":-0.21},{"s":"data 8","x":420,"y":-0.15},{"s":"data 8","x":425,"y":-0.19},{"s":"data 8","x":430,"y":-0.16},{"s":"data 8","x":435,"y":-0.22},{"s":"data 8","x":440,"y":-0.27},{"s":"data 8","x":445,"y":-0.31},{"s":"data 8","x":450,"y":-0.2},{"s":"data 8","x":455,"y":-0.05},{"s":"data 8","x":460,"y":0.03},{"s":"data 8","x":465,"y":-0.1},{"s":"data 8","x":470,"y":-0.25},{"s":"data 8","x":475,"y":-0.17},{"s":"data 8","x":480,"y":-0.24},{"s":"data 8","x":485,"y":-0.3},{"s":"data 8","x":490,"y":-0.18},{"s":"data 8","x":495,"y":-0.02},{"s":"data 8","x":500,"y":0.04},{"s":"data 8","x":505,"y":0.02},{"s":"data 8","x":510,"y":0.01},{"s":"data 8","x":515,"y":0.03},{"s":"data 8","x":520,"y":0.02},{"s":"data 8","x":525,"y":0},{"s":"data 8","x":530,"y":0.02},{"s":"data 8","x":535,"y":0.03},{"s":"data 8","x":540,"y":0.01},{"s":"data 8","x":545,"y":0.02},{"s":"data 8","x":550,"y":0},{"s":"data 8","x":555,"y":0.01},{"s":"data 8","x":560,"y":0.03},{"s":"data 8","x":565,"y":0.02},{"s":"data 8","x":570,"y":0.01},{"s":"data 8","x":575,"y":0.03},{"s":"data 8","x":580,"y":0.02},{"s":"data 8","x":585,"y":0.01},{"s":"data 8","x":590,"y":0.03},{"s":"data 8","x":595,"y":0.02},{"s":"data 8","x":600,"y":0.02}
]},
"layer": [
  {
    "mark": {"type": "line", "strokeWidth": 1, "clip": true},
    "encoding": {
      "x": {"field": "x", "type": "quantitative", "scale": {"domain": [0, 600], "nice": false},
            "axis": {"orient": "bottom", "values": [0, 100, 200, 300, 400, 500, 600], "title": "Iterations", "grid": true, "tickSize": -5, "labelPadding": 10, "labelFlush": false, "labelOverlap": false, "titlePadding": 3}},
      "y": {"field": "y", "type": "quantitative", "scale": {"domain": [-2, 1], "nice": false, "zero": false},
            "axis": {"orient": "left", "values": [-2, -1.5, -1, -0.5, 0, 0.5, 1], "format": "~g", "title": "Velocity", "grid": true, "tickSize": -5, "labelPadding": 11, "labelFlush": false, "labelOverlap": false, "titlePadding": 5}},
      "color": {"field": "s", "type": "nominal",
        "scale": {"domain": ["data 1", "data 2", "data 3", "data 4", "data 5", "data 6", "data 7", "data 8", "data 9", "data 10", "data 11", "data 12"],
                  "range": ["#0000ff", "#008000", "#ff0000", "#00bfbf", "#bf00bf", "#bfbf00", "#404040", "#0000ff", "#ffffff", "#ffffff", "#ffffff", "#ffffff"]},
        "legend": {"orient": "none", "legendX": 519, "legendY": 4, "title": null, "fillColor": "white", "strokeColor": "black", "padding": 3,
                   "labelFont": "Liberation Sans", "labelFontSize": 13, "labelColor": "black", "labelLimit": 0,
                   "symbolType": "stroke", "symbolSize": 289, "symbolStrokeWidth": 1, "symbolOffset": 7, "labelOffset": 18, "rowPadding": 0}}
    }
  },
  {
    "data": {"values": [{"label": "x 10"}]},
    "mark": {"type": "text", "text": "x 10", "align": "left", "baseline": "alphabetic", "dx": 1, "dy": -7, "font": "Liberation Sans", "fontSize": 12, "color": "black"},
    "encoding": {
      "x": {"datum": 0, "type": "quantitative", "axis": {"orient": "top", "values": [0, 100, 200, 300, 400, 500, 600], "labels": false, "title": null, "grid": false, "tickSize": -5}},
      "y": {"datum": 1, "type": "quantitative", "axis": {"orient": "right", "values": [-2, -1.5, -1, -0.5, 0, 0.5, 1], "labels": false, "title": null, "grid": false, "tickSize": -5}}
    }
  },
  {
    "data": {"values": [{"label": "-3"}]},
    "mark": {"type": "text", "text": "−3", "align": "left", "baseline": "alphabetic", "dx": 24, "dy": -15, "font": "Liberation Sans", "fontSize": 10, "color": "black"},
    "encoding": {
      "x": {"datum": 0, "type": "quantitative", "axis": null},
      "y": {"datum": 1, "type": "quantitative", "axis": null}
    }
  }
],
"resolve": {"axis": {"x": "independent", "y": "independent"}}
}
